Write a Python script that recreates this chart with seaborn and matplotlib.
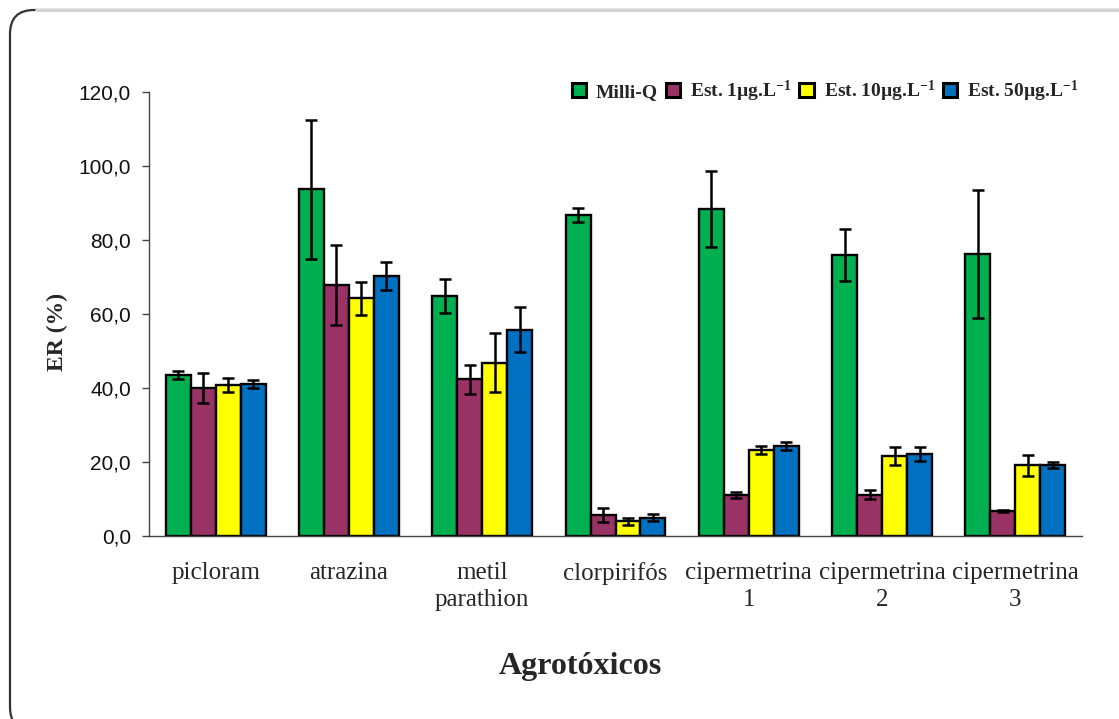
import matplotlib
matplotlib.use("Agg")
import matplotlib.pyplot as plt
from matplotlib.patches import FancyBboxPatch
from matplotlib.lines import Line2D
from matplotlib.transforms import IdentityTransform
import numpy as np
import pandas as pd
import seaborn as sns

# --- data -------------------------------------------------------------
categories = ["picloram", "atrazina", "metil\nparathion", "clorpirifós",
              "cipermetrina\n1", "cipermetrina\n2", "cipermetrina\n3"]
series = ["Milli-Q", "Est. 1µg.L-1", "Est. 10µg.L-1", "Est. 50µg.L-1"]
legend_labels = ["Milli-Q", "Est. 1µg.L$^{-1}$", "Est. 10µg.L$^{-1}$", "Est. 50µg.L$^{-1}$"]

milliq = [43.5, 93.7, 64.9, 86.8, 88.3, 75.9, 76.2]
est1 = [40.0, 67.8, 42.3, 5.8, 11.1, 11.1, 6.8]
est10 = [40.8, 64.2, 46.8, 4.0, 23.2, 21.6, 19.1]
est50 = [41.1, 70.3, 55.8, 5.0, 24.3, 22.2, 19.2]

milliq_err = [1.2, 18.7, 4.6, 1.9, 10.3, 7.0, 17.3]
est1_err = [4.0, 10.8, 3.9, 1.9, 0.9, 1.2, 0.3]
est10_err = [1.8, 4.5, 8.0, 1.0, 1.1, 2.4, 2.8]
est50_err = [1.0, 3.7, 6.2, 0.9, 1.0, 1.8, 0.9]

yticks = [0, 20, 40, 60, 80, 100, 120]
colors = ["#00B050", "#993366", "#FFFF00", "#0070C0"]

values = [milliq, est1, est10, est50]
errors = [milliq_err, est1_err, est10_err, est50_err]

df = pd.DataFrame({
    "Agrotóxico": np.tile(categories, len(series)),
    "Extração": np.repeat(series, len(categories)),
    "ER": np.concatenate(values),
})

# --- style ------------------------------------------------------------
sns.set_style("white")
plt.rcParams["font.family"] = ["Liberation Serif", "DejaVu Serif"]
plt.rcParams["mathtext.fontset"] = "custom"
plt.rcParams["mathtext.rm"] = "Liberation Serif:bold"
plt.rcParams["mathtext.default"] = "rm"

W, H = 1119, 719
fig = plt.figure(figsize=(W / 100, H / 100), dpi=100)
ax = fig.add_axes([149 / W, 1 - 536 / H, (1082 - 149) / W, (536 - 92) / H])

sns.barplot(data=df, x="Agrotóxico", y="ER", hue="Extração", order=categories,
            hue_order=series, palette=colors, saturation=1, edgecolor="black",
            linewidth=1.7, errorbar=None, width=0.75, gap=0, ax=ax)

# error bars on top of each bar
for cont, err in zip(ax.containers, errors):
    xs = [p.get_x() + p.get_width() / 2 for p in cont.patches]
    ys = [p.get_height() for p in cont.patches]
    ax.errorbar(xs, ys, yerr=err, fmt="none", ecolor="black",
                elinewidth=1.8, capsize=4, capthick=1.8, zorder=5)

ax.set_xlim(-0.5, len(categories) - 0.5)
ax.set_ylim(0, 120)
ax.set_yticks(yticks)
ax.set_yticklabels([f"{v:.1f}".replace(".", ",") for v in yticks],
                   family="Liberation Sans", fontsize=15, color="#111111")

# category labels centred, tick marks between groups
ax.set_xticks(range(len(categories)))
ax.set_xticklabels(categories, fontsize=18, linespacing=1.25)
ax.set_xticks(np.arange(-0.5, len(categories)), minor=True)
ax.tick_params(axis="x", which="major", length=0, pad=19)
ax.tick_params(axis="x", which="minor", length=5, width=1, color="#444444", direction="out")
ax.tick_params(axis="y", length=5, width=1, color="#444444", direction="out", left=True, pad=8)

for side in ["top", "right"]:
    ax.spines[side].set_visible(False)
for side in ["left", "bottom"]:
    ax.spines[side].set_color("#444444")
    ax.spines[side].set_linewidth(1.0)

ax.set_ylabel("ER (%)", fontsize=17, fontweight="bold")
ax.yaxis.set_label_coords(-0.087, 0.46)
ax.set_xlabel("Agrotóxicos", fontsize=23, fontweight="bold")
ax.xaxis.set_label_coords(0.462, -0.262)

# legend
handles, _ = ax.get_legend_handles_labels()
ax.get_legend().remove()
for h in handles:
    h.set_linewidth(2.2)
fig.legend(handles, legend_labels, loc="center right", bbox_to_anchor=(1088 / W, 1 - 91 / H),
           ncol=4, frameon=False, prop={"weight": "bold", "size": 14},
           handlelength=0.75, handleheight=0.75, handletextpad=0.5,
           columnspacing=0.4, borderpad=0)

# rounded frame around the figure (pixel coordinates): dark outline, faint top edge
frame = FancyBboxPatch((10, -12), 1160, H - 10 + 12, transform=IdentityTransform(),
                       boxstyle="round,pad=0,rounding_size=24",
                       facecolor="none", edgecolor="#333333", linewidth=1.6)
fig.patches.append(frame)
fig.add_artist(Line2D([36, W], [H - 10, H - 10], transform=IdentityTransform(),
                      color="#d4d4d4", linewidth=2.2))

fig.savefig("out.png", dpi=100)
